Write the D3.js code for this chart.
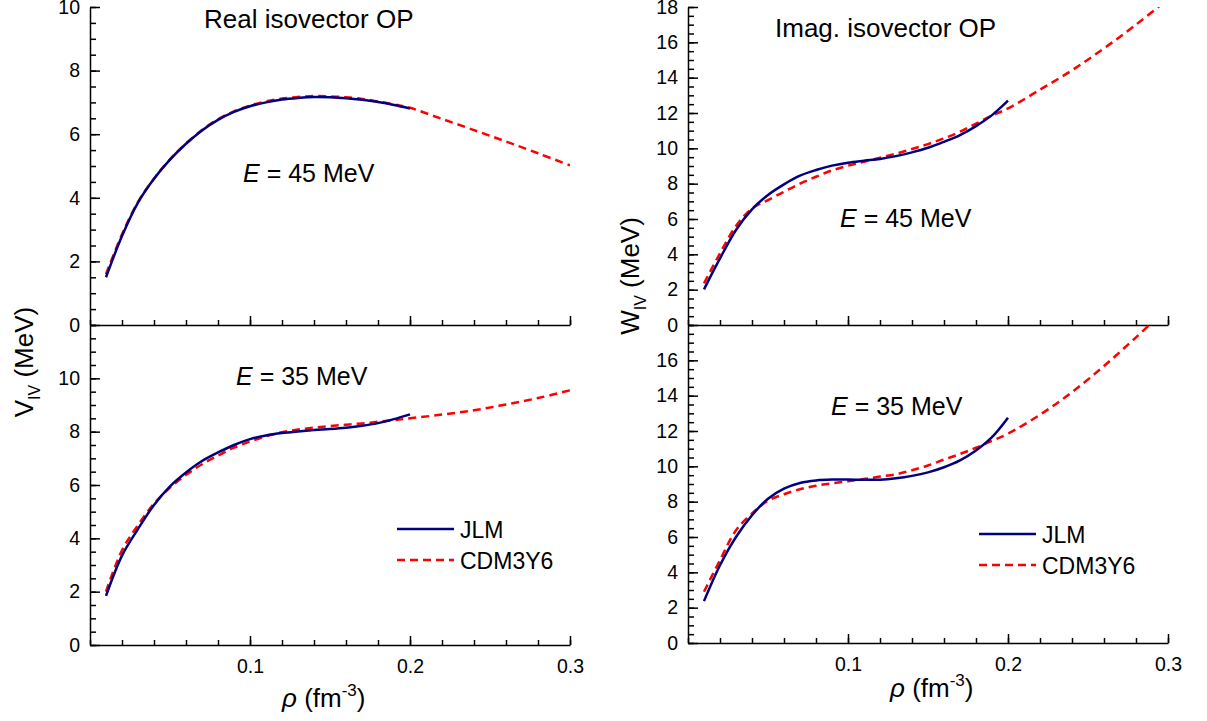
<!DOCTYPE html>
<html>
<head>
<meta charset="utf-8">
<script src="https://cdn.jsdelivr.net/npm/d3@7"></script>
<style>
  body { margin: 0; background: #fff; }
  svg text { font-family: "Liberation Sans", Arial, sans-serif; fill: #000; }
</style>
</head>
<body>
<script>
// density grid (fm^-3)
var rhoJLM = [0.01, 0.02, 0.03, 0.04, 0.05, 0.06, 0.07, 0.08, 0.09, 0.10,
              0.11, 0.12, 0.13, 0.14, 0.15, 0.16, 0.17, 0.18, 0.19, 0.20];
var rhoCDM = [0.01, 0.02, 0.03, 0.04, 0.05, 0.06, 0.07, 0.08, 0.09, 0.10,
              0.11, 0.12, 0.13, 0.14, 0.15, 0.16, 0.17, 0.18, 0.19, 0.20,
              0.22, 0.24, 0.26, 0.28, 0.30];

// real part, E = 45 MeV
var realJLM45 = [1.5, 2.8, 3.85, 4.6, 5.2, 5.7, 6.12, 6.45, 6.7, 6.88,
                 7.0, 7.09, 7.14, 7.17, 7.16, 7.13, 7.08, 7.01, 6.92, 6.81];
var realCDM45 = [1.6, 2.85, 3.87, 4.6, 5.21, 5.71, 6.13, 6.47, 6.72, 6.9,
                 7.03, 7.12, 7.17, 7.2, 7.19, 7.16, 7.11, 7.03, 6.94, 6.83,
                 6.48, 6.13, 5.77, 5.4, 5.02];
// real part, E = 35 MeV
var realJLM35 = [1.84, 3.35, 4.35, 5.25, 5.95, 6.47, 6.9, 7.22, 7.5, 7.72,
                 7.86, 7.95, 8.01, 8.06, 8.1, 8.15, 8.22, 8.32, 8.47, 8.65];
var realCDM35 = [2.0, 3.55, 4.5, 5.3, 5.9, 6.38, 6.78, 7.1, 7.4, 7.63,
                 7.83, 7.98, 8.08, 8.15, 8.21, 8.26, 8.31, 8.37, 8.43, 8.5,
                 8.64, 8.8, 9.02, 9.26, 9.55];
// imaginary part, E = 45 MeV
var imagJLM45 = [2.02, 3.77, 5.38, 6.55, 7.36, 7.96, 8.45, 8.77, 9.02, 9.19,
                 9.3, 9.4, 9.56, 9.77, 10.03, 10.37, 10.75, 11.26, 11.88, 12.7];
var imagCDM45 = [2.36, 4.06, 5.6, 6.6, 7.07, 7.54, 8.0, 8.39, 8.75, 9.02,
                 9.24, 9.47, 9.7, 9.96, 10.24, 10.56, 10.94, 11.4, 11.85, 12.26,
                 13.32, 14.42, 15.66, 17.0, 18.45];
// imaginary part, E = 35 MeV
var imagJLM35 = [2.37, 4.4, 6.0, 7.23, 8.17, 8.74, 9.06, 9.2, 9.25, 9.25,
                 9.24, 9.24, 9.32, 9.46, 9.66, 9.95, 10.34, 10.9, 11.65, 12.75];
var imagCDM35 = [2.9, 4.69, 6.38, 7.33, 8.05, 8.42, 8.7, 8.9, 9.04, 9.15,
                 9.28, 9.42, 9.55, 9.78, 10.05, 10.38, 10.7, 11.05, 11.45, 11.85,
                 12.92, 14.2, 15.68, 17.3, 19.0];

var seriesNames = ["JLM", "CDM3Y6"];
var xMajorTicks = [0.1, 0.2, 0.3];

var svgWidth = 1207;
var svgHeight = 721;

var svg = d3.select("body")
    .append("svg")
    .attr("width", svgWidth)
    .attr("height", svgHeight);

var font = "Liberation Sans, Arial, sans-serif";

var panels = [
    { id: "tl", x0: 90, y0: 7, y1: 325, ymax: 10, labels: d3.range(0, 11, 2), jlm: realJLM45, cdm: realCDM45, xlabels: false },
    { id: "bl", x0: 90, y0: 325, y1: 645, ymax: 12, labels: d3.range(0, 11, 2), jlm: realJLM35, cdm: realCDM35, xlabels: true },
    { id: "tr", x0: 688, y0: 7, y1: 325, ymax: 18, labels: d3.range(0, 19, 2), jlm: imagJLM45, cdm: imagCDM45, xlabels: false },
    { id: "br", x0: 688, y0: 325, y1: 643, ymax: 18, labels: d3.range(0, 17, 2), jlm: imagJLM35, cdm: imagCDM35, xlabels: true }
];

function styleAxis(g) {
    g.attr("font-family", font).attr("font-size", 19.5);
    g.selectAll("path, line").attr("stroke", "#000").attr("stroke-width", 1.5);
    g.selectAll("text").attr("fill", "#000");
}

panels.forEach(function (p) {
    var xScale = d3.scaleLinear().domain([0, 0.3]).range([p.x0, p.x0 + 480]);
    var yScale = d3.scaleLinear().domain([0, p.ymax]).range([p.y1, p.y0]);

    svg.append("clipPath")
        .attr("id", "clip-" + p.id)
        .append("rect")
        .attr("x", p.x0)
        .attr("y", p.y0)
        .attr("width", 480)
        .attr("height", p.y1 - p.y0);

    // y axis: minor every 0.5, major every 2
    var yMinor = d3.range(0, p.ymax + 0.001, 0.5);
    svg.append("g")
        .attr("transform", `translate(${p.x0}, 0)`)
        .call(d3.axisLeft(yScale).tickValues(yMinor).tickSize(-6).tickFormat(""))
        .call(styleAxis)
        .select(".domain").remove();

    svg.append("g")
        .attr("transform", `translate(${p.x0}, 0)`)
        .call(d3.axisLeft(yScale).tickValues(p.labels).tickSizeInner(-10).tickSizeOuter(0)
            .tickPadding(10).tickFormat(d3.format("d")))
        .call(styleAxis);

    // x axis: minor every 0.02
    var xMinor = d3.range(0, 0.3001, 0.02);
    svg.append("g")
        .attr("transform", `translate(0, ${p.y1})`)
        .call(d3.axisBottom(xScale).tickValues(xMinor).tickSize(-5).tickFormat(""))
        .call(styleAxis)
        .select(".domain").remove();

    svg.append("g")
        .attr("transform", `translate(0, ${p.y1})`)
        .call(d3.axisBottom(xScale).tickValues(xMajorTicks).tickSizeInner(-9).tickSizeOuter(0)
            .tickPadding(14).tickFormat(p.xlabels ? d3.format(".1f") : ""))
        .call(styleAxis);

    var line = d3.line()
        .x(d => xScale(d[0]))
        .y(d => yScale(d[1]))
        .curve(d3.curveCatmullRom);

    var plot = svg.append("g").attr("clip-path", `url(#clip-${p.id})`);

    plot.append("path")
        .datum(d3.zip(rhoCDM, p.cdm))
        .attr("d", line)
        .attr("fill", "none")
        .attr("stroke", "#ff0000")
        .attr("stroke-width", 2.5)
        .attr("stroke-dasharray", "8,5");

    plot.append("path")
        .datum(d3.zip(rhoJLM, p.jlm))
        .attr("d", line)
        .attr("fill", "none")
        .attr("stroke", "#000080")
        .attr("stroke-width", 2.5);
});

// panel titles
svg.append("text").attr("x", 204).attr("y", 28).attr("font-size", 26).text("Real isovector OP");
svg.append("text").attr("x", 775).attr("y", 37).attr("font-size", 26).text("Imag. isovector OP");

// energy labels
var energyLabels = [
    { x: 243, y: 182, t: " = 45 MeV" },
    { x: 236, y: 385, t: " = 35 MeV" },
    { x: 840, y: 227, t: " = 45 MeV" },
    { x: 831, y: 415, t: " = 35 MeV" }
];
energyLabels.forEach(function (e) {
    var t = svg.append("text").attr("x", e.x).attr("y", e.y).attr("font-size", 25);
    t.append("tspan").attr("font-style", "italic").text("E");
    t.append("tspan").text(e.t);
});

// legends
var legends = [
    { x: 397, y: 529 },
    { x: 979, y: 534 }
];
legends.forEach(function (l) {
    seriesNames.forEach(function (name, i) {
        var ly = l.y + i * 31;
        svg.append("line")
            .attr("x1", l.x).attr("x2", l.x + 57)
            .attr("y1", ly).attr("y2", ly)
            .attr("stroke", i === 0 ? "#000080" : "#ff0000")
            .attr("stroke-width", 2.5)
            .attr("stroke-dasharray", i === 0 ? null : "8,5");
        svg.append("text")
            .attr("x", l.x + 63)
            .attr("y", ly + 9)
            .attr("font-size", 23)
            .text(name);
    });
});

// y axis titles
function yTitle(x, y, main) {
    var t = svg.append("text")
        .attr("transform", `translate(${x}, ${y}) rotate(-90)`)
        .attr("text-anchor", "middle")
        .attr("font-size", 26);
    t.append("tspan").text(main);
    t.append("tspan").attr("font-size", 16).attr("dy", 7).text("IV");
    t.append("tspan").attr("dy", -7).text(" (MeV)");
}
yTitle(33, 362, "V");
yTitle(639, 276, "W");

// x axis titles
function xTitle(x, y) {
    var t = svg.append("text").attr("x", x).attr("y", y).attr("font-size", 26);
    t.append("tspan").attr("font-style", "italic").text("ρ");
    t.append("tspan").text(" (fm");
    t.append("tspan").attr("font-size", 17).attr("dy", -11).text("-3");
    t.append("tspan").attr("dy", 11).text(")");
}
xTitle(282, 707);
xTitle(890, 697);
</script>
</body>
</html>
